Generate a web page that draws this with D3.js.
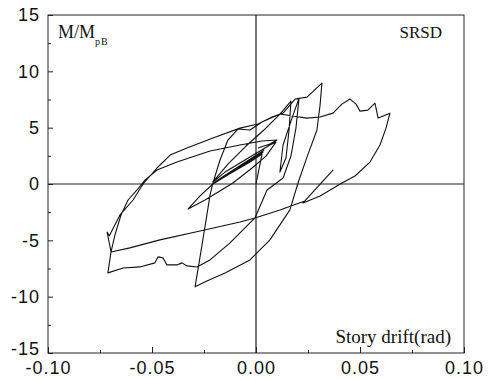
<!DOCTYPE html>
<html>
<head>
<meta charset="utf-8">
<script src="https://cdn.jsdelivr.net/npm/d3@7"></script>
<style>
  body { margin: 0; background: #fff; }
  svg { display: block; }
</style>
</head>
<body>
<div id="chart"></div>
<script>
// story drift (rad) / normalised moment, traced in loading order
const drift = [
  0, 0.0029, -0.0029, -0.0202, -0.0173, 0.0029, -0.0019, -0.0207, -0.0163, 0.0034, -0.0010, -0.0197, -0.0154, 0.0038, 0, -0.0202,
  -0.0269, -0.0327, -0.0245, -0.0111, -0.0019, 0.0048, 0.0096, 0.0067, -0.0053, -0.0149, -0.0207,
  -0.0135, -0.0048, 0.0038, 0.0115, 0.0168, 0.0159, 0.0144, 0.0115, 0.0130, 0.0173, 0.0207, 0.0192, 0.0168, 0.0130, 0.0053, -0.0005, -0.0125, -0.0221,
  -0.0284, -0.0332, -0.0356, -0.0380, -0.0428, -0.0447, -0.0471, -0.0486, -0.0558, -0.0639, -0.0712,
  -0.0697, -0.0716, -0.0705, -0.0654, -0.0591, -0.0543, -0.0476, -0.0413, -0.0332, -0.0207, -0.0077, 0.0010, 0.0077, 0.0130, 0.0188, 0.0245, 0.0317,
  0.0308, 0.0293, 0.0245, 0.0202, 0.0163, 0.0067, -0.0029, -0.0149, -0.0236, -0.0293,
  -0.0269, -0.0240, -0.0221, -0.0207, -0.0173, -0.0135, -0.0087, -0.0029, 0.0029, 0.0115, 0.0245, 0.0308, 0.0370, 0.0413, 0.0452, 0.0481, 0.0500, 0.0538, 0.0572, 0.0587, 0.0644,
  0.0625, 0.0596, 0.0548, 0.0476, 0.0413, 0.0308, 0.0226, 0.0370, 0.0235, 0.0115, -0.0005, -0.0077, -0.0269, -0.0462, -0.0606, -0.0697,
  -0.0678, -0.0649, -0.0615, -0.0572, -0.0534, -0.0476, -0.0380, -0.0221, -0.0077, 0.0029, 0.0101, 0.0067, 0.0010
];
const moment = [
  0, 2.66, 1.95, 0.09, 0.44, 2.75, 2.13, 0, 0.53, 2.84, 2.30, 0.18, 0.71, 3.01, 2.39, 0.09,
  -1.06, -2.22, -1.42, 0.09, 1.42, 2.48, 3.72, 3.46, 2.13, 1.06, 0.18,
  1.77, 3.37, 4.79, 6.21, 7.36, 4.79, 2.30, 1.06, 3.46, 5.85, 7.62, 4.96, 2.48, 0.53, -0.53, -3.01, -5.23, -6.74,
  -7.36, -7.27, -7.00, -7.18, -7.18, -6.56, -6.47, -7.00, -7.36, -7.45, -7.89,
  -6.03, -4.26, -4.60, -2.75, -1.42, 0, 1.42, 2.57, 3.19, 4.08, 4.96, 5.32, 5.94, 6.29, 7.54, 7.71, 8.95,
  7.00, 4.79, 2.39, 0.09, -2.30, -4.96, -6.74, -7.89, -8.60, -9.13,
  -6.47, -3.19, -0.98, 0.09, 2.13, 3.90, 4.88, 4.79, 5.50, 6.21, 5.85, 5.94, 6.29, 7.09, 7.54, 7.09, 6.47, 6.56, 7.18, 5.85, 6.29,
  4.96, 3.46, 1.95, 0.71, 0.09, -1.06, -1.68, 1.24, -1.50, -2.30, -3.01, -3.37, -4.17, -4.96, -5.67, -6.03,
  -4.52, -2.75, -1.42, -0.53, 0.35, 1.24, 1.95, 2.93, 3.46, 3.81, 3.90, 3.55, 3.19
];

const xMajor = [-0.10, -0.05, 0.00, 0.05, 0.10];
const xMinor = [-0.075, -0.025, 0.025, 0.075];
const yMajor = [-15, -10, -5, 0, 5, 10, 15];
const yMinor = [-12.5, -7.5, -2.5, 2.5, 7.5, 12.5];

const W = 492, H = 380;
const margin = {left: 48, right: 464, top: 15, bottom: 353};

const svg = d3.select('#chart').append('svg')
  .attr('width', W)
  .attr('height', H);

const x = d3.scaleLinear().domain([-0.1, 0.1]).range([margin.left, margin.right]);
const y = d3.scaleLinear().domain([-15, 15]).range([margin.bottom, margin.top]);

// frame
svg.append('rect')
  .attr('x', margin.left).attr('y', margin.top)
  .attr('width', margin.right - margin.left).attr('height', margin.bottom - margin.top)
  .attr('fill', 'none').attr('stroke', '#222').attr('stroke-width', 1);

// zero lines
svg.append('line')
  .attr('x1', margin.left).attr('x2', margin.right)
  .attr('y1', y(0)).attr('y2', y(0))
  .attr('stroke', '#222').attr('stroke-width', 1.2);
svg.append('line')
  .attr('x1', x(0)).attr('x2', x(0))
  .attr('y1', margin.top).attr('y2', margin.bottom)
  .attr('stroke', '#222').attr('stroke-width', 1.2);

function styleAxis(g) {
  g.select('.domain').remove();
  g.selectAll('.tick line').attr('stroke', '#222');
  g.selectAll('.tick text')
    .attr('fill', '#111')
    .style('font-family', '"Liberation Sans", Arial, sans-serif')
    .style('font-size', '18px')
    .style('letter-spacing', '1px');
}

const xAxis = d3.axisBottom(x)
  .tickValues(xMajor)
  .tickSizeInner(-6)
  .tickSizeOuter(0)
  .tickPadding(8)
  .tickFormat(d => d.toFixed(2));

const xAxisMinor = d3.axisBottom(x)
  .tickValues(xMinor)
  .tickSizeInner(-3)
  .tickSizeOuter(0)
  .tickFormat('');

const yAxis = d3.axisLeft(y)
  .tickValues(yMajor)
  .tickSizeInner(-5)
  .tickSizeOuter(0)
  .tickPadding(8)
  .tickFormat(d => String(d));

const yAxisMinor = d3.axisLeft(y)
  .tickValues(yMinor)
  .tickSizeInner(-3)
  .tickSizeOuter(0)
  .tickFormat('');

svg.append('g').attr('transform', 'translate(0,' + margin.bottom + ')').call(xAxis).call(styleAxis);
svg.append('g').attr('transform', 'translate(0,' + margin.bottom + ')').call(xAxisMinor).call(styleAxis);
const yG = svg.append('g').attr('transform', 'translate(' + margin.left + ',0)').call(yAxis).call(styleAxis);
svg.append('g').attr('transform', 'translate(' + margin.left + ',0)').call(yAxisMinor).call(styleAxis);

// the -15 label sits a little above its tick, clear of -0.10
yG.selectAll('.tick text').filter(d => d === -15).attr('y', -4);

// hysteresis curve
const pts = drift.map((d, i) => [d, moment[i]]);
const line = d3.line()
  .x(d => x(d[0]))
  .y(d => y(d[1]))
  .curve(d3.curveLinear);

svg.append('path')
  .datum(pts)
  .attr('d', line)
  .attr('fill', 'none')
  .attr('stroke', '#111')
  .attr('stroke-width', 1.1)
  .attr('stroke-linejoin', 'round');

// labels
const serif = '"Liberation Serif", "Times New Roman", serif';
const ylab = svg.append('text')
  .attr('x', 58).attr('y', 38)
  .style('font-family', serif)
  .style('font-size', '18px')
  .attr('fill', '#111');
ylab.append('tspan').text('M/M');
ylab.append('tspan').attr('dy', 7).style('font-size', '10px').style('letter-spacing', '1px').text('pB');

svg.append('text')
  .attr('x', 442).attr('y', 38)
  .attr('text-anchor', 'end')
  .style('font-family', serif)
  .style('font-size', '17px')
  .attr('fill', '#111')
  .text('SRSD');

svg.append('text')
  .attr('x', 451).attr('y', 343)
  .attr('text-anchor', 'end')
  .style('font-family', serif)
  .style('font-size', '19px')
  .attr('fill', '#111')
  .text('Story drift(rad)');
</script>
</body>
</html>
